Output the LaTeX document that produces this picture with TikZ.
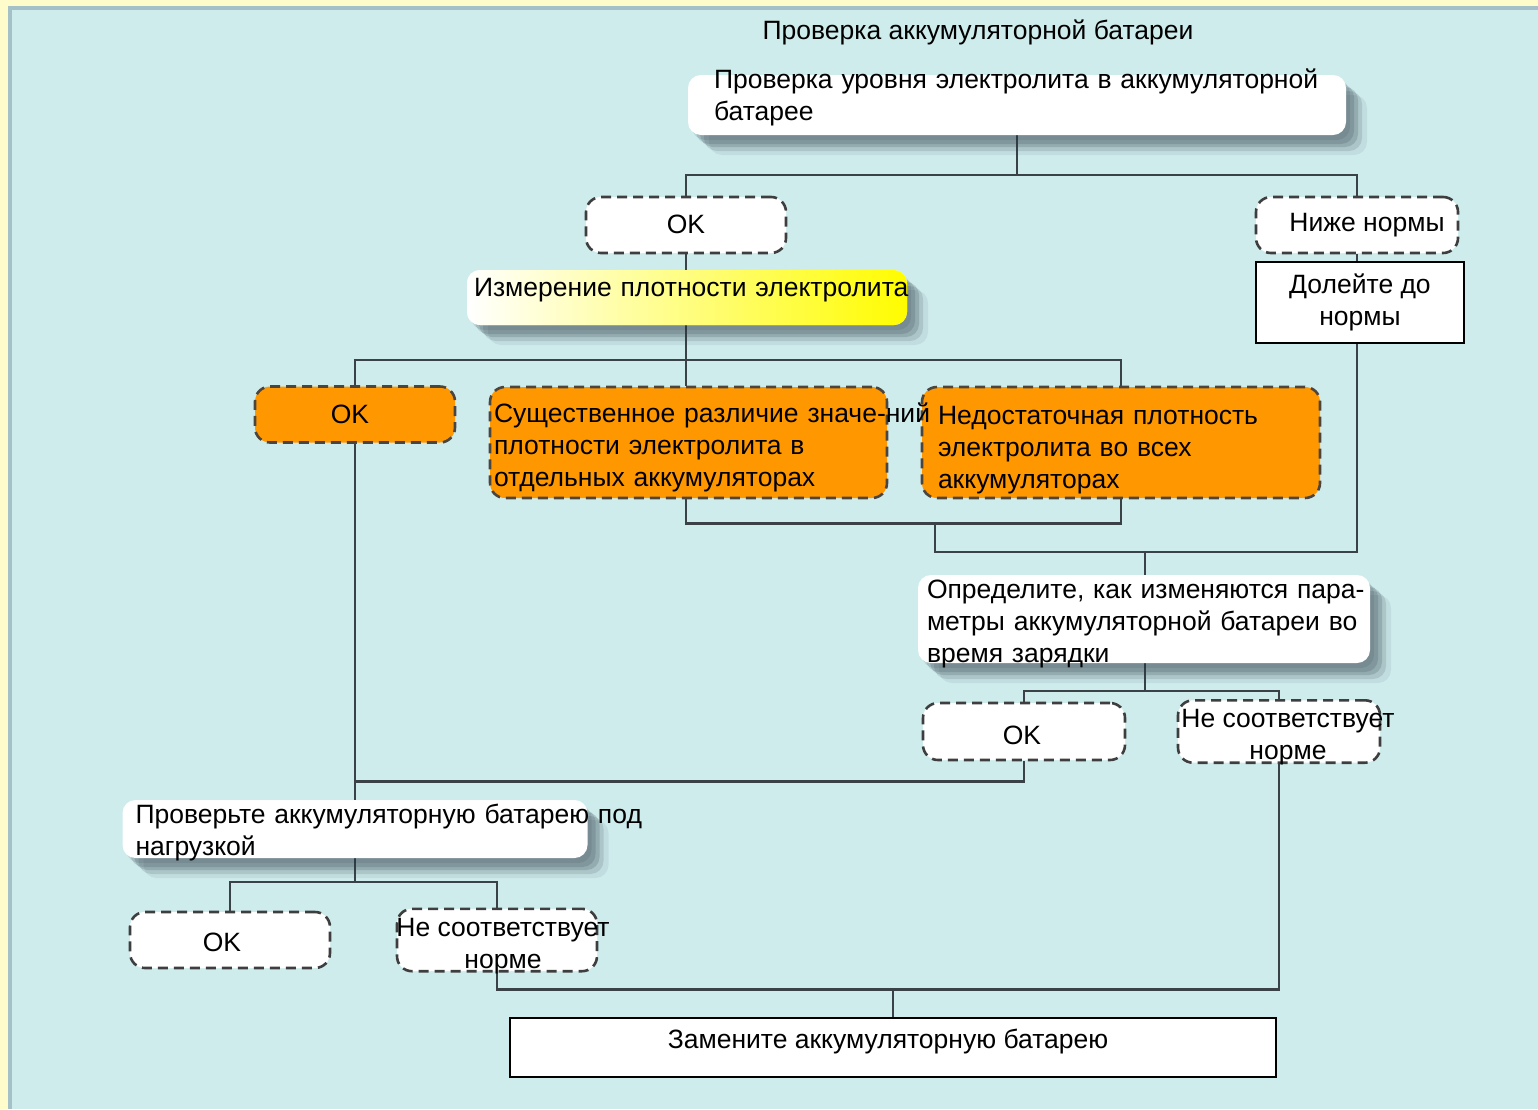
\documentclass[tikz,border=0pt]{standalone}
\usepackage{fontspec}
\setmainfont{Liberation Sans}
\usetikzlibrary{calc,shadows}
\definecolor{PageYellow}{RGB}{255,252,204}
\definecolor{PanelCyan}{RGB}{207,236,237}
\definecolor{PanelEdge}{RGB}{163,193,198}
\definecolor{LineGray}{RGB}{58,66,72}
\definecolor{DashGray}{RGB}{62,62,62}
\definecolor{ShadowGray}{RGB}{40,55,65}
\definecolor{BoxOrange}{RGB}{255,152,0}
\definecolor{BoxYellow}{RGB}{255,252,0}
\pgfdeclarelayer{panel}
\pgfdeclarelayer{wires}
\pgfsetlayers{panel,wires,main}
% move one line of a node up or down without changing its size
\newcommand\nudge[2]{\raisebox{#1}[\height][\depth]{#2}}
\tikzset{
  line/.style={draw=LineGray,line width=2.4pt},
  choice/.style={draw=DashGray,fill=white,line width=2.6pt,
    dash pattern=on 10pt off 6pt,rounded corners=15pt,
    minimum width=200pt,minimum height=56pt,align=center},
  orangechoice/.style={choice,fill=BoxOrange,draw=DashGray!90!brown},
  softshadow/.style={
    drop shadow={shadow xshift=4pt,shadow yshift=-5pt,opacity=.12,fill=ShadowGray},
    drop shadow={shadow xshift=8pt,shadow yshift=-9pt,opacity=.16,fill=ShadowGray},
    drop shadow={shadow xshift=12pt,shadow yshift=-12pt,opacity=.18,fill=ShadowGray},
    drop shadow={shadow xshift=16pt,shadow yshift=-16pt,opacity=.14,fill=ShadowGray},
    drop shadow={shadow xshift=21pt,shadow yshift=-20pt,opacity=.08,fill=ShadowGray}},
  stepbox/.style={fill=white,rounded corners=13pt,align=left,inner ysep=0pt,
    softshadow},
  actbox/.style={draw=black,fill=white,line width=2pt,align=center}
}

\begin{document}
\begin{tikzpicture}[x=1pt,y=-1pt,font=\fontsize{26.5}{32}\selectfont]
  \useasboundingbox (0,0) rectangle (1538,1109);
  \begin{pgfonlayer}{panel}
    \fill[PageYellow] (0,0) rectangle (1538,1109);
    \fill[PanelCyan] (8,6) rectangle (1538,1109);
    \draw[PanelEdge,line width=4pt] (10,1109) -- (10,8) -- (1538,8);
  \end{pgfonlayer}

  \node (title) at (978,32) {Проверка аккумуляторной батареи};

  % level check
  \node[stepbox,minimum width=658pt,minimum height=60pt,text width=606pt,
    inner xsep=26pt] (level) at (1017,105)
    {\nudge{8pt}{Проверка уровня электролита в аккумуляторной}\\\nudge{8pt}{батарее}};
  \node[choice] (ok1) at (686,225) {\nudge{1pt}{OK}};
  \node[choice,minimum width=202pt] (low) at (1357,225) {\hspace*{20pt}Ниже нормы};
  \node[actbox,minimum width=208pt,minimum height=81pt] (topup) at (1360,302.5)
    {Долейте до\\нормы};

  % density
  \node[stepbox,shading=axis,left color=white,right color=BoxYellow,
    minimum width=440pt,minimum height=55pt,text width=426pt,inner xsep=7pt]
    (density) at (687,297.5) {\nudge{7pt}{Измерение плотности электролита}};
  \node[orangechoice] (ok2) at (355,414.5) {\hspace*{-10pt}OK};
  \node[orangechoice,minimum width=398pt,minimum height=111pt,align=left,
    text width=366pt,inner xsep=16pt] (lowdens) at (1121,442.5)
    {\nudge{-8pt}{Недостаточная плотность}\\\nudge{-8pt}{электролита во всех}\\\nudge{-8pt}{аккумуляторах}};
  \node[orangechoice,minimum width=397pt,minimum height=111pt,align=left,
    text width=389pt,inner xsep=4pt] (diff) at (688.5,442.5)
    {\nudge{-5pt}{Существенное различие значе-ний}\\\nudge{-5pt}{плотности электролита в}\\\nudge{-5pt}{отдельных аккумуляторах}};

  % charging
  \node[stepbox,minimum width=452pt,minimum height=82pt,text width=434pt,
    inner xsep=9pt] (charge) at (1144,619)
    {\nudge{-5pt}{Определите, как изменяются пара-}\\\nudge{-5pt}{метры аккумуляторной батареи во}\\\nudge{-5pt}{время зарядки}};
  \node[choice,minimum width=202pt,minimum height=57pt] (ok3) at (1024,731.5)
    {\nudge{-4pt}{\hspace*{-4pt}OK}};
  \node[choice,minimum width=202pt,minimum height=57pt] (bad1) at (1279,731.5)
    {\nudge{-6pt}{\makebox[0pt]{\hspace*{18pt}Не соответствует}}\\\nudge{-6pt}{\makebox[0pt]{\hspace*{18pt}норме}}};

  % load test
  \node[stepbox,minimum width=465pt,minimum height=58pt,text width=439pt,
    inner xsep=13pt] (load) at (355,829)
    {\nudge{-4pt}{Проверьте аккумуляторную батарею под}\\\nudge{-4pt}{нагрузкой}};
  \node[choice] (ok4) at (230,940) {\nudge{-2pt}{\hspace*{-16pt}OK}};
  \node[choice] (bad2) at (497,940)
    {\nudge{-6pt}{\makebox[0pt]{\hspace*{12pt}Не соответствует}}\\\nudge{-6pt}{\makebox[0pt]{\hspace*{12pt}норме}}};

  \node[actbox,minimum width=766pt,minimum height=59pt] (replace) at (893,1047.5)
    {\nudge{6pt}{\hspace*{-10pt}Замените аккумуляторную батарею}};

  \coordinate (j3) at (935,522);
  \coordinate (j4) at (1145,552);

  \begin{pgfonlayer}{wires}
    \draw[line] (level.south) -- ++(0,40) coordinate (j1);
    \draw[line] (ok1.north) |- (j1) -| (low.north);
    \draw[line] (low.south) -- (low.south |- topup.north);
    \draw[line] (ok1.south) -- (ok1.south |- density.north);
    \draw[line] (ok1.south |- density.south) -- ++(0,35) coordinate (j2);
    \draw[line] (ok2.north) |- (j2) -| (lowdens.north);
    \draw[line] (j2) -- (j2 |- diff.north);
    \draw[line] (j2 |- diff.south) -- ++(0,24) -| (lowdens.south);
    \draw[line] (j3) |- (j4) -| (low.south |- topup.south);
    \draw[line] (j4) -- (j4 |- charge.north);
    \draw[line] (j4 |- charge.south) -- ++(0,28) coordinate (j5);
    \draw[line] (ok3.north) |- (j5) -| (bad1.north);
    \draw[line] (ok3.south) -- ++(0,20) -| (ok2.south);
    \draw[line] (ok2.south) -- (load.north);
    \draw[line] (load.south) -- ++(0,24) coordinate (j7);
    \draw[line] (ok4.north) |- (j7) -| (bad2.north);
    \draw[line] (bad2.south) -- ++(0,17) coordinate (j8) -| (bad1.south);
    \draw[line] (replace.north) -- (replace.north |- j8);
  \end{pgfonlayer}
\end{tikzpicture}
\end{document}
